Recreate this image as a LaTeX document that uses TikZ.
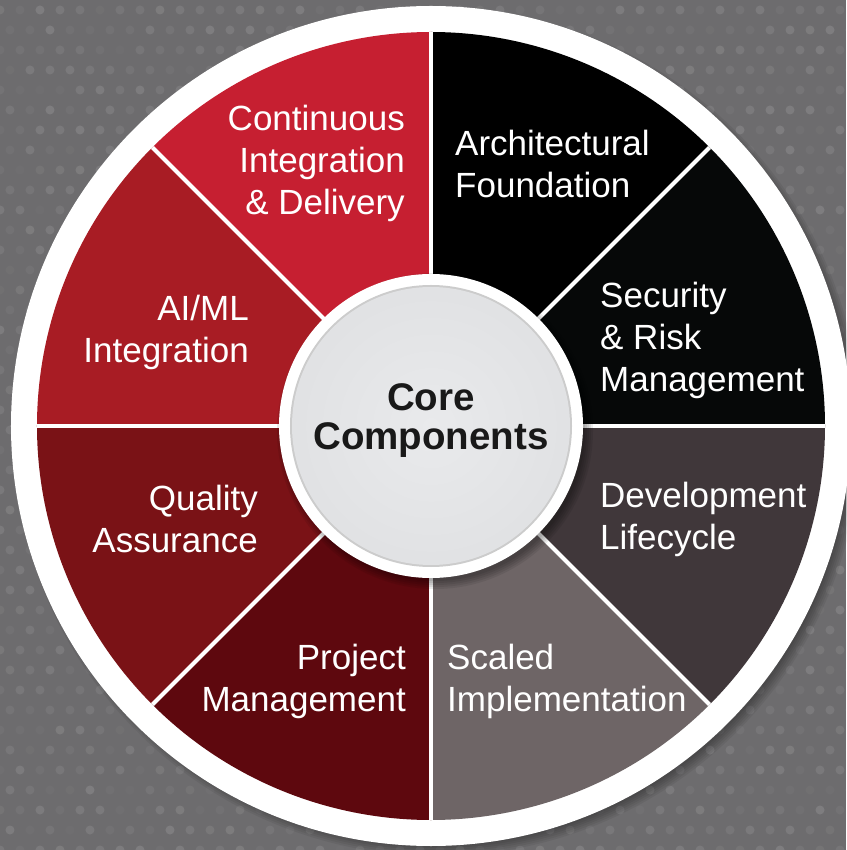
\documentclass[tikz,border=0pt]{standalone}
\usepackage{fontspec}
\setmainfont{Liberation Sans}
\definecolor{bggray}{HTML}{6D6C6E}
\definecolor{cired}{HTML}{C61F31}
\definecolor{aired}{HTML}{A81C24}
\definecolor{qared}{HTML}{7A1216}
\definecolor{pmred}{HTML}{5E080E}
\definecolor{scgray}{HTML}{6E6566}
\definecolor{dvgray}{HTML}{40373A}
\definecolor{secblack}{HTML}{060808}
\definecolor{discin}{HTML}{E9EAEC}
\definecolor{discmid}{HTML}{DFE0E2}
\definecolor{discout}{HTML}{C4C5C7}
\pgfdeclareradialshading{discshade}{\pgfpoint{0bp}{0bp}}{color(0bp)=(discin); color(30bp)=(discmid); color(50bp)=(discout)}
\tikzset{
  seglabel/.style={text=white, font=\fontsize{35}{42}\selectfont, inner sep=0pt},
  corelabel/.style={text=black!90, font=\bfseries\fontsize{38.5}{39}\selectfont, inner sep=0pt, align=center}
}

\begin{document}
\begin{tikzpicture}[x=1pt,y=1pt]
\useasboundingbox (-431,-424) rectangle (415,426);
\fill[bggray] (-431,-424) rectangle (415,426);
% dotted texture
\pgfmathsetseed{11}
\foreach \i in {0,...,43}
  \foreach \j in {0,...,43}
  {\pgfmathsetmacro{\op}{0.02+0.10*rnd}
   \pgfmathsetmacro{\dx}{-431+\i*20+mod(\j,2)*10}
   \pgfmathsetmacro{\dy}{-424+\j*20}
   \fill[white,opacity=\op] (\dx,\dy) circle (4.5);}
% shadow of the wheel
\foreach \k in {1,...,6}
  \fill[black,opacity=0.06] (6,-6) circle (412+\k*2);
\fill[white] (0,0) circle (420);
% wedges
\draw[fill=black,draw=none] (0,0) -- (90:394) arc[start angle=90, end angle=45, radius=394] -- cycle;
\draw[fill=secblack,draw=none] (0,0) -- (45:394) arc[start angle=45, end angle=0, radius=394] -- cycle;
\draw[fill=dvgray,draw=none] (0,0) -- (0:394) arc[start angle=0, end angle=-45, radius=394] -- cycle;
\draw[fill=scgray,draw=none] (0,0) -- (-45:394) arc[start angle=-45, end angle=-90, radius=394] -- cycle;
\draw[fill=pmred,draw=none] (0,0) -- (-90:394) arc[start angle=-90, end angle=-135, radius=394] -- cycle;
\draw[fill=qared,draw=none] (0,0) -- (-135:394) arc[start angle=-135, end angle=-180, radius=394] -- cycle;
\draw[fill=aired,draw=none] (0,0) -- (180:394) arc[start angle=180, end angle=135, radius=394] -- cycle;
\draw[fill=cired,draw=none] (0,0) -- (135:394) arc[start angle=135, end angle=90, radius=394] -- cycle;
\foreach \a in {0,45,...,315}
  \draw[white,line width=4] (0,0) -- (\a:394);
% centre disc
\foreach \k in {1,...,5}
  \fill[black,opacity=0.08] (4,-5) circle (148+\k*2);
\fill[white] (0,0) circle (152);
\fill[black!20] (0,0) circle (141);
\shade[shading=discshade] (0,0) circle (139);
% labels
\node[seglabel, anchor=east, align=right] (cicd) at (-26,263) {Continuous\\Integration\\\& Delivery};
\node[seglabel, anchor=west, align=left] (arch) at (24,262) {Architectural\\Foundation};
\node[seglabel, anchor=west, align=left] (secrisk) at (169,86) {Security\\\& Risk\\Management};
\node[seglabel, anchor=west, align=left] (devlc) at (169,-93) {Development\\Lifecycle};
\node[seglabel, anchor=west, align=left] (scaled) at (16,-255) {Scaled\\Implementation};
\node[seglabel, anchor=east, align=right] (projm) at (-25,-255) {Project\\Management};
\node[seglabel, anchor=east, align=right] (qa) at (-173,-93) {Quality\\Assurance};
\node[seglabel, anchor=east, align=right] (aiml) at (-182,94) {AI/ML\\Integration};
\node[corelabel] (core) at (0,5) {Core\\Components};
\end{tikzpicture}
\end{document}
